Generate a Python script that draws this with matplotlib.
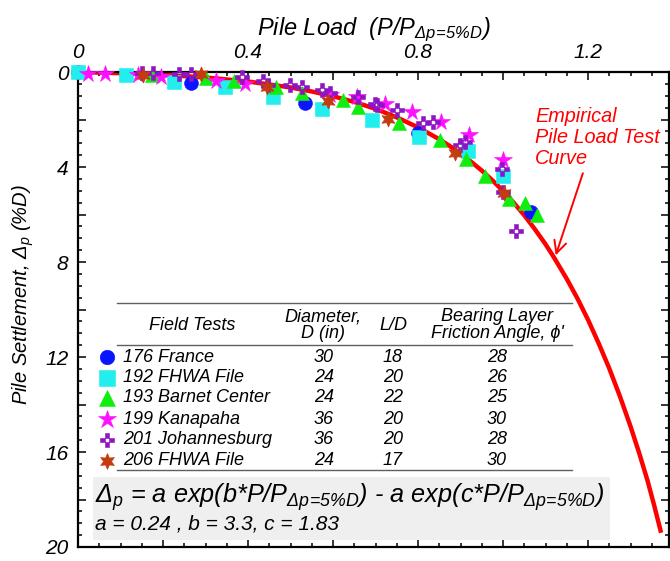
import matplotlib
matplotlib.use("Agg")
import matplotlib.pyplot as plt
from matplotlib.ticker import MultipleLocator, FuncFormatter
from matplotlib.lines import Line2D
from matplotlib.patches import Rectangle
from matplotlib.path import Path

plt.rcParams['font.family'] = ['Liberation Sans', 'DejaVu Sans']
plt.rcParams['font.style'] = 'italic'
plt.rcParams['mathtext.fontset'] = 'custom'
plt.rcParams['mathtext.rm'] = 'Liberation Sans:italic'
plt.rcParams['mathtext.it'] = 'Liberation Sans:italic'
plt.rcParams['mathtext.sf'] = 'Liberation Sans:italic'

# ---------------- data ----------------
france_x = [0.0, 0.266, 0.534, 0.80, 1.067]
france_y = [0.0, 0.45, 1.30, 2.55, 5.88]

fhwa192_x = [0.0, 0.113, 0.226, 0.345, 0.459, 0.573, 0.691, 0.802, 0.918, 0.999]
fhwa192_y = [0.0, 0.13, 0.41, 0.64, 1.05, 1.54, 2.00, 2.72, 3.31, 4.38]

barnet_x = [0.174, 0.30, 0.367, 0.466, 0.526, 0.624, 0.659, 0.755, 0.852, 0.913, 0.958, 1.015, 1.052, 1.08]
barnet_y = [0.13, 0.26, 0.39, 0.63, 0.87, 1.19, 1.47, 2.16, 2.86, 3.68, 4.38, 5.35, 5.53, 6.02]

kanapaha_x = [0.023, 0.064, 0.14, 0.195, 0.325, 0.393, 0.593, 0.656, 0.722, 0.787, 0.853, 0.92, 0.999]
kanapaha_y = [0.08, 0.08, 0.13, 0.21, 0.37, 0.49, 0.95, 1.05, 1.33, 1.67, 2.09, 2.65, 3.70]

johan_x = [0.15, 0.176, 0.238, 0.266, 0.385, 0.436, 0.447, 0.499, 0.526, 0.573, 0.593, 0.659, 0.699,
           0.703, 0.75, 0.812, 0.835, 0.899, 0.91, 0.997, 1.0, 1.031]
johan_y = [0.03, 0.06, 0.08, 0.08, 0.21, 0.39, 0.55, 0.56, 0.63, 0.77, 0.87, 1.05, 1.33,
           1.39, 1.60, 2.15, 2.10, 3.07, 2.95, 4.10, 5.04, 6.68]

fhwa206_x = [0.152, 0.29, 0.444, 0.588, 0.729, 0.887, 1.002]
fhwa206_y = [0.13, 0.10, 0.62, 1.20, 1.97, 3.40, 5.08]

curve_x = [0.0, 0.1, 0.2, 0.3, 0.4, 0.5, 0.55, 0.6, 0.65, 0.7, 0.75, 0.8, 0.85, 0.875, 0.9, 0.925,
           0.95, 0.975, 1.0, 1.025, 1.05, 1.075, 1.1, 1.12, 1.15, 1.175, 1.2, 1.225, 1.25, 1.275,
           1.3, 1.32, 1.34, 1.355, 1.372]
curve_y = [0.0, 0.05, 0.12, 0.23, 0.40, 0.65, 0.82, 1.02, 1.26, 1.55, 1.91, 2.33, 2.83, 3.12, 3.43, 3.78,
           4.15, 4.56, 5.01, 5.50, 6.03, 6.62, 7.25, 7.81, 8.71, 9.53, 10.43, 11.42, 12.48, 13.65,
           14.92, 16.02, 17.2, 18.2, 19.4]

x_ticks = [0, 0.4, 0.8, 1.2]
y_ticks = [0, 4, 8, 12, 16, 20]

names = ['176 France', '192 FHWA File', '193 Barnet Center', '199 Kanapaha', '201 Johannesburg', '206 FHWA File']
diam = ['30', '24', '24', '36', '36', '24']
ld = ['18', '20', '22', '20', '20', '17']
phi = ['28', '26', '25', '30', '28', '30']

# ---------------- styles ----------------
cross_verts = [(-0.5, -1.5), (0.5, -1.5), (0.5, -0.5), (1.5, -0.5), (1.5, 0.5), (0.5, 0.5),
               (0.5, 1.5), (-0.5, 1.5), (-0.5, 0.5), (-1.5, 0.5), (-1.5, -0.5), (-0.5, -0.5), (0, 0),
               (-0.5, -0.5), (-0.5, 0.5), (0.5, 0.5), (0.5, -0.5), (0, 0)]
cross_codes = ([Path.MOVETO] + [Path.LINETO] * 11 + [Path.CLOSEPOLY] +
               [Path.MOVETO] + [Path.LINETO] * 3 + [Path.CLOSEPOLY])
cross_marker = Path(cross_verts, cross_codes)

styles = [
    dict(marker='o', color='#0a14ff', ms=10),
    dict(marker='s', color='#22eeee', ms=10.5),
    dict(marker='^', color='#10ee10', ms=10.5),
    dict(marker='*', color='#ff10ff', ms=13),
    dict(marker=cross_marker, color='#8e14c4', ms=10),
    dict(marker=(6, 1, 0), color='#c23c10', ms=11),
]
series = [(france_x, france_y), (fhwa192_x, fhwa192_y), (barnet_x, barnet_y),
          (kanapaha_x, kanapaha_y), (johan_x, johan_y), (fhwa206_x, fhwa206_y)]

W, H = 670, 561
fig = plt.figure(figsize=(W / 100, H / 100), dpi=100)
L, R, T, B = 78, 669, 72, 547
ax = fig.add_axes([L / W, 1 - B / H, (R - L) / W, (B - T) / H])


def P(px, py):
    return (px / W, 1 - py / H)


ax.plot(curve_x, curve_y, color='#ff0000', lw=3.2, zorder=2, solid_capstyle='butt',
        solid_joinstyle='round')

for i in range(6):
    (xs, ys), st = series[i], styles[i]
    ax.plot(xs, ys, linestyle='none', marker=st['marker'], markersize=st['ms'],
            markerfacecolor=st['color'], markeredgecolor=st['color'], markeredgewidth=0.4,
            zorder=3, clip_on=False)

ax.set_xlim(0, (R - L) / 425.0)
ax.set_ylim(20, 0)

ax.xaxis.tick_top()
ax.xaxis.set_label_position('top')
ax.xaxis.set_major_locator(MultipleLocator(0.2))
ax.xaxis.set_minor_locator(MultipleLocator(0.05))
ax.yaxis.set_major_locator(MultipleLocator(2))
ax.yaxis.set_minor_locator(MultipleLocator(0.5))


def xfmt(v, p):
    for t in x_ticks:
        if abs(v - t) < 1e-6:
            return '0' if t == 0 else f'{t:.1f}'
    return ''


def yfmt(v, p):
    for t in y_ticks:
        if abs(v - t) < 1e-6:
            return f'{t:d}'
    return ''


ax.xaxis.set_major_formatter(FuncFormatter(xfmt))
ax.yaxis.set_major_formatter(FuncFormatter(yfmt))
ax.tick_params(which='both', direction='in', top=True, bottom=True, left=True, right=True,
               labeltop=True, labelbottom=False, labelsize=15, width=1.1)
ax.tick_params(which='major', length=5.5, pad=7)
ax.tick_params(which='minor', length=2.8)
for s in ax.spines.values():
    s.set_linewidth(1.6)

ax.set_xlabel(r'Pile Load  (P/P$_{\Delta p\!=\!5\%D}$)', fontsize=17, labelpad=6)
ax.set_ylabel(r'Pile Settlement, $\Delta_p$ (%D)', fontsize=14.5)
ax.yaxis.set_label_coords((36 - L) / (R - L), (B - 295) / (B - T))

# annotation
ax.annotate('', xy=(1.122, 7.83), xytext=(1.19, 4.15),
            arrowprops=dict(arrowstyle='->', color='#ff0000', lw=1.4, mutation_scale=22))
fig.text(*P(535, 107), 'Empirical\nPile Load Test\nCurve', color='#ff0000', fontsize=14.3,
         ha='left', va='top', linespacing=1.12)

# table
line_c = '#606060'
for yy in (303, 345, 470):
    fig.add_artist(Line2D([117 / W, 572 / W], [1 - yy / H, 1 - yy / H], transform=fig.transFigure,
                          color=line_c, lw=1.0))
fs = 13
fig.text(*P(192, 325), 'Field Tests', fontsize=fs, ha='center', va='center')
fig.text(*P(323, 325), 'Diameter,\nD (in)', fontsize=fs, ha='center', va='center', linespacing=1.0)
fig.text(*P(393, 325), 'L/D', fontsize=fs, ha='center', va='center')
fig.text(*P(497, 325), "Bearing Layer\nFriction Angle, \u03d5'", fontsize=fs, ha='center', va='center',
         linespacing=1.0)
row_y = [357, 377.5, 398, 419, 440, 460.5]
for i, ry in enumerate(row_y):
    st = styles[i]
    fig.add_artist(Line2D([107 / W], [1 - ry / H], transform=fig.transFigure, linestyle='none',
                          marker=st['marker'], markersize=st['ms'] * 1.05, markerfacecolor=st['color'],
                          markeredgecolor=st['color'], markeredgewidth=0.4))
    fig.text(*P(123, ry), names[i], fontsize=fs, ha='left', va='center')
    fig.text(*P(324, ry), diam[i], fontsize=fs, ha='center', va='center')
    fig.text(*P(393, ry), ld[i], fontsize=fs, ha='center', va='center')
    fig.text(*P(497, ry), phi[i], fontsize=fs, ha='center', va='center')

# equation box
fig.add_artist(Rectangle(P(93, 540), (610 - 93) / W, (540 - 477) / H, transform=fig.transFigure,
                         facecolor='#efefef', edgecolor='none', zorder=1))
fig.text(*P(95, 497), r'$\Delta_p$ = a exp(b*P/P$_{\Delta p\!=\!5\%D}$) - a exp(c*P/P$_{\Delta p\!=\!5\%D}$)',
         fontsize=18.2, ha='left', va='center', zorder=2)
fig.text(*P(95, 524), 'a = 0.24 , b = 3.3, c = 1.83', fontsize=15, ha='left', va='center', zorder=2)

fig.savefig('out.png', dpi=100)
